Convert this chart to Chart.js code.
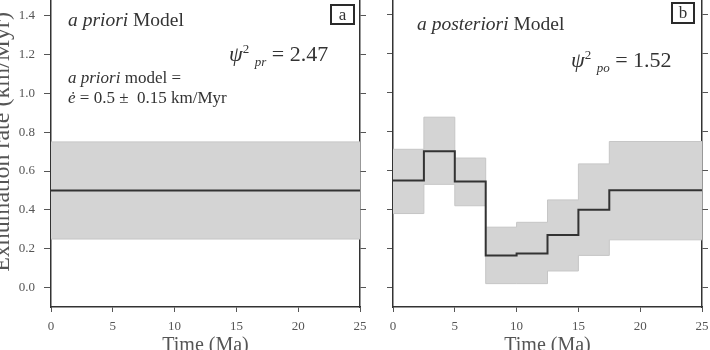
<!DOCTYPE html>
<html>
<head>
<meta charset="utf-8">
<script src="https://cdn.jsdelivr.net/npm/chart.js@4/dist/chart.umd.min.js"></script>
<style>
  html, body { margin: 0; padding: 0; background: #fff; }
  #wrap { position: relative; width: 710px; height: 350px; overflow: hidden; background: #fff; }
  canvas { position: absolute; }
  #chartA { left: -12px; top: -40px; }
  #chartB { left: 375px; top: -40px; }
  .note { position: absolute; font-family: "Liberation Serif", "DejaVu Serif", serif; color: #333; white-space: nowrap; line-height: 1; }
  .note i { font-style: italic; }
  .tag { position: absolute; border: 2px solid #2a2a2a; font-family: "Liberation Serif", serif; font-size: 17px; color: #333;
         text-align: center; box-sizing: border-box; line-height: 17px; }
  sup, sub { font-size: 13px; line-height: 0; }
</style>
</head>
<body>
<div id="wrap">
  <canvas id="chartA" width="387" height="398"></canvas>
  <canvas id="chartB" width="345" height="398"></canvas>

  <div class="note" style="left:68px; top:10px; font-size:19.5px;"><i>a priori</i> Model</div>
  <div class="note" style="left:229px; top:43px; font-size:22px;"><i>ψ</i><sup>2</sup> <sub><i>pr</i></sub> = 2.47</div>
  <div class="note" style="left:68px; top:69px; font-size:17px;"><i>a priori</i> model =</div>
  <div class="note" style="left:68px; top:89px; font-size:17px;"><i>ė</i> = 0.5 ±&nbsp; 0.15 km/Myr</div>
  <div class="tag" style="left:330px; top:4px; width:25px; height:21px;">a</div>

  <div class="note" style="left:417px; top:14px; font-size:19.5px;"><i>a posteriori</i> Model</div>
  <div class="note" style="left:571px; top:49px; font-size:22px;"><i>ψ</i><sup>2</sup> <sub><i>po</i></sub> = 1.52</div>
  <div class="tag" style="left:671px; top:2px; width:24px; height:22px;">b</div>
</div>

<script>
// axis ticks
const xTicks = [0, 5, 10, 15, 20, 25];
const yTicks = [0.0, 0.2, 0.4, 0.6, 0.8, 1.0, 1.2, 1.4, 1.6];

// (a) a priori model
const priorTimes = [0, 25];
const priorRate = [0.5, 0.5];
const priorUpper = [0.75, 0.75];
const priorLower = [0.25, 0.25];

// (b) a posteriori model, one value per time interval
const postTimes = [0, 2.5, 5, 7.5, 10, 12.5, 15, 17.5, 25];
const postRate = [0.55, 0.70, 0.545, 0.165, 0.175, 0.27, 0.40, 0.50];
const postUpper = [0.71, 0.875, 0.665, 0.31, 0.335, 0.45, 0.635, 0.75];
const postLower = [0.38, 0.53, 0.42, 0.02, 0.02, 0.085, 0.165, 0.245];

const serif = "'Liberation Serif', 'DejaVu Serif', serif";
const axisColor = "#333";
const labelColor = "#555";
const bandColor = "#d4d4d4";

// repeat the last interval value at the end time so the step reaches 25 Ma
const toPoints = (times, vals) =>
    times.map((t, i) => ({ x: t, y: vals[Math.min(i, vals.length - 1)] }));

const makeDatasets = (times, rate, lower, upper, stepped) => [
    {
        data: toPoints(times, rate),
        borderColor: "#333",
        borderWidth: 2,
        pointRadius: 0,
        stepped: stepped,
        fill: false,
    },
    {
        data: toPoints(times, lower),
        borderColor: "#c6c6c6",
        borderWidth: 1,
        pointRadius: 0,
        stepped: stepped,
        fill: false,
    },
    {
        data: toPoints(times, upper),
        borderColor: "#c6c6c6",
        borderWidth: 1,
        pointRadius: 0,
        stepped: stepped,
        backgroundColor: bandColor,
        fill: 1,
    },
];

const setTicks = list => scale => {
    scale.ticks = list.map(v => ({ value: v }));
};

const makeOptions = ({ leftWidth, rightWidth, showYLabels }) => ({
    responsive: false,
    animation: false,
    devicePixelRatio: 1,
    layout: { padding: { top: 16, left: 0, right: 0, bottom: 0 } },
    plugins: { legend: { display: false }, tooltip: { enabled: false } },
    scales: {
        x: {
            type: "linear",
            position: "bottom",
            min: 0,
            max: 25,
            afterBuildTicks: setTicks(xTicks),
            afterFit: scale => { scale.height = 51; },
            grid: { drawOnChartArea: false, tickLength: 5, tickColor: "#555", tickWidth: 1 },
            border: { display: true, color: axisColor, width: 1.5 },
            ticks: { color: labelColor, padding: 7, font: { family: serif, size: 13 }, maxRotation: 0 },
            title: {
                display: true,
                text: "Time (Ma)",
                color: "#555",
                padding: 0,
                font: { family: serif, size: 20 },
            },
        },
        y: {
            type: "linear",
            position: "left",
            min: -0.1,
            max: 1.6,
            afterBuildTicks: setTicks(yTicks),
            afterFit: scale => { scale.width = leftWidth; },
            grid: { drawOnChartArea: false, tickLength: showYLabels ? 7 : 6, tickColor: "#555", tickWidth: 1 },
            border: { display: true, color: axisColor, width: 1.5 },
            ticks: {
                display: showYLabels,
                color: labelColor,
                padding: 9,
                font: { family: serif, size: 13 },
                callback: v => v.toFixed(1),
            },
            title: {
                display: showYLabels,
                text: "Exhumation rate (km/Myr)",
                color: "#555",
                padding: 0,
                font: { family: serif, size: 24 },
            },
        },
        y2: {
            type: "linear",
            position: "right",
            min: -0.1,
            max: 1.6,
            afterBuildTicks: setTicks(yTicks),
            afterFit: scale => { scale.width = rightWidth; },
            grid: { drawOnChartArea: false, tickLength: 6, tickColor: "#555", tickWidth: 1 },
            border: { display: true, color: axisColor, width: 1.5 },
            ticks: { display: false },
        },
    },
});

new Chart(document.getElementById("chartA"), {
    type: "line",
    data: { datasets: makeDatasets(priorTimes, priorRate, priorLower, priorUpper, false) },
    options: makeOptions({ leftWidth: 63, rightWidth: 15, showYLabels: true }),
});

new Chart(document.getElementById("chartB"), {
    type: "line",
    data: { datasets: makeDatasets(postTimes, postRate, postLower, postUpper, "before") },
    options: makeOptions({ leftWidth: 18, rightWidth: 18, showYLabels: false }),
});
</script>
</body>
</html>
